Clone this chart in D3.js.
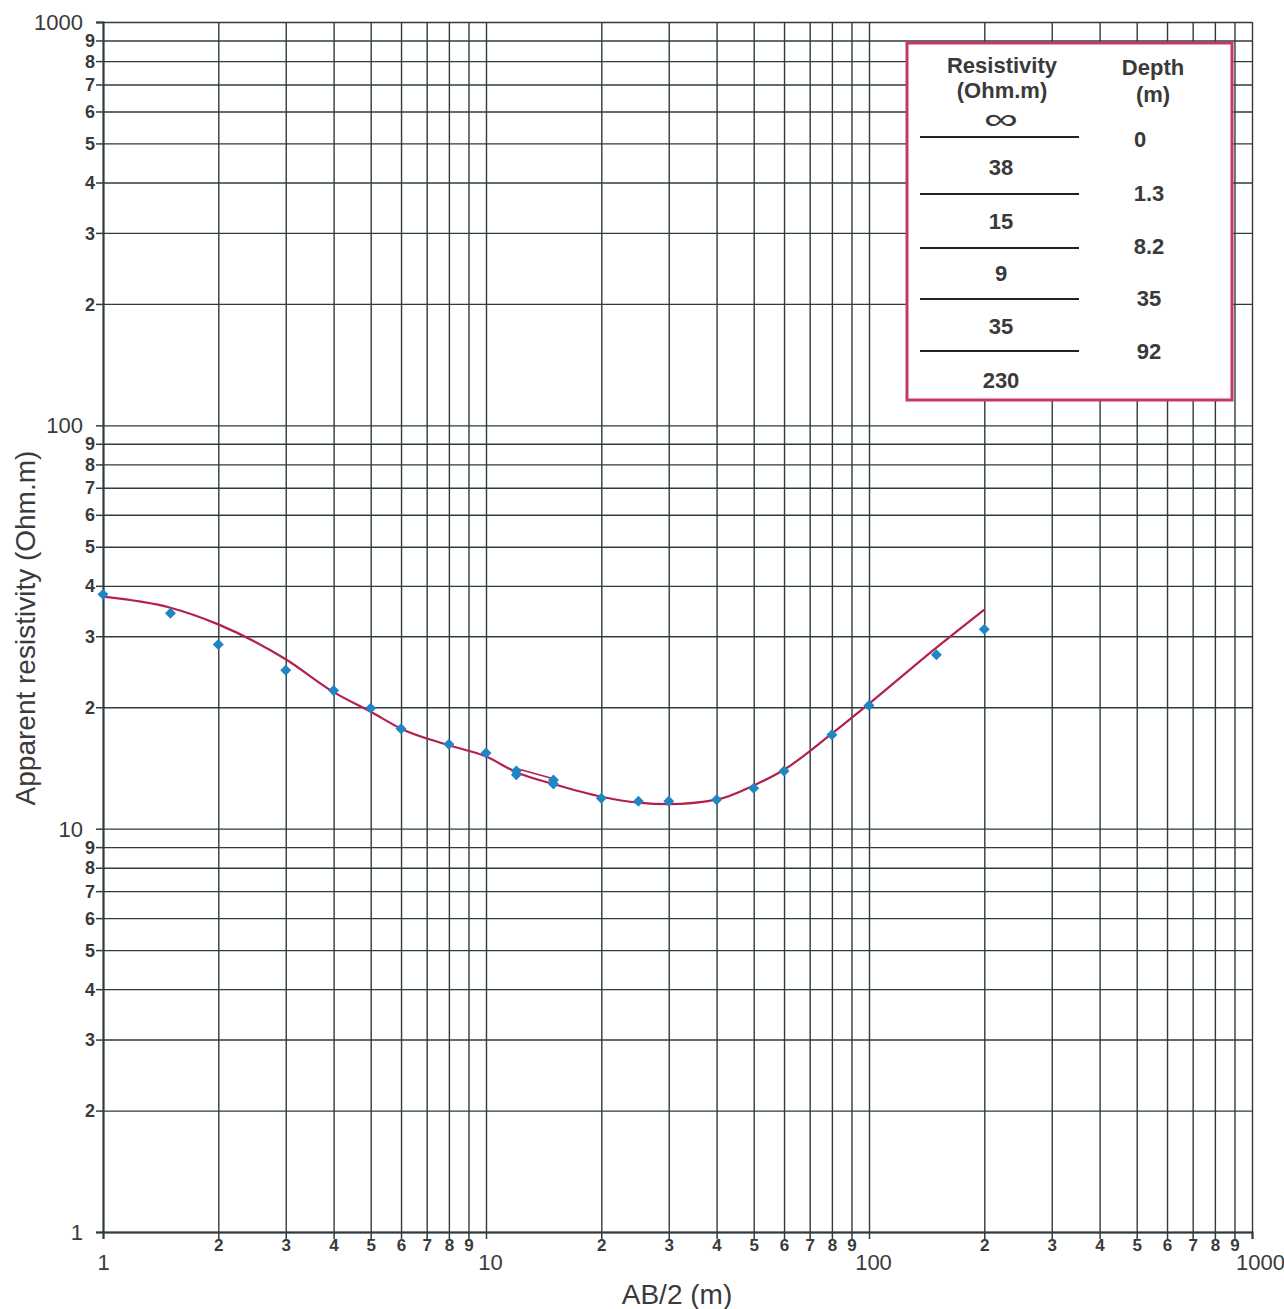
<!DOCTYPE html>
<html>
<head>
<meta charset="utf-8">
<script src="https://cdn.jsdelivr.net/npm/d3@7"></script>
<style>
  body { margin: 0; background: #fff; }
  svg { font-family: "Liberation Sans", Arial, sans-serif; }
</style>
</head>
<body>
<div id="hook-ves"></div>
<script>
'use strict';

// measured apparent resistivity (AB/2, rho_a)
var obsAB = [1, 1.5, 2, 3, 4, 5, 6, 8, 10, 12, 12, 15, 15, 20, 25, 30, 40, 50, 60, 80, 100, 150, 200];
var obsRho = [38.1, 34.2, 28.6, 24.7, 22.0, 19.9, 17.7, 16.2, 15.4, 13.9, 13.6, 13.2, 12.9, 11.9, 11.7, 11.7, 11.8, 12.6, 13.9, 17.1, 20.2, 27.0, 31.2];

// fitted model curve
var fitAB = [1, 1.5, 2, 3, 4, 5, 6, 8, 10, 12, 15, 20, 25, 30, 40, 50, 60, 80, 100, 150, 200];
var fitRho = [37.6, 35.3, 32.1, 26.3, 21.8, 19.5, 17.7, 16.1, 15.1, 13.8, 12.9, 12.0, 11.6, 11.5, 11.8, 12.8, 14.0, 17.2, 20.4, 28.1, 34.9];

// short overlapping segment of second spread
var segAB = [12, 15];
var segRho = [14.1, 13.3];

// layer table
var layerRes = ['\u221E', '38', '15', '9', '35', '230'];
var layerDepth = ['0', '1.3', '8.2', '35', '92'];

var decades = [1, 10, 100, 1000];
var minorDigits = [1, 2, 3, 4, 5, 6, 7, 8, 9];

var options = {
  width: 1284,
  height: 1309,
  left: 103,
  top: 22,
  right: 1252,
  bottom: 1232
};

var gridColor = '#2e3b40',
  textColor = '#3a3a3a',
  lineColor = '#b3204e',
  markColor = '#1f86c6';

function update(options) {
  var svg = d3.select('#hook-ves')
    .append('svg')
    .attr('width', options.width)
    .attr('height', options.height);

  var x = d3.scaleLog().domain([1, 1000]).range([options.left, options.right]);
  var y = d3.scaleLog().domain([1, 1000]).range([options.bottom, options.top]);

  var allTicks = [];
  decades.slice(0, 3).forEach(function(d) {
    minorDigits.forEach(function(m) { allTicks.push(d * m); });
  });
  allTicks.push(1000);

  var isMajor = function(v) { return decades.indexOf(v) >= 0; };
  var fmt = function(v) {
    return isMajor(v) ? String(v) : String(Math.round(v / Math.pow(10, Math.floor(Math.log10(v) + 1e-9))));
  };

  // grid
  svg.append('g')
    .attr('transform', 'translate(0,' + options.bottom + ')')
    .call(d3.axisBottom(x).tickValues(allTicks).tickSize(-(options.bottom - options.top)).tickFormat(''))
    .call(function(g) {
      g.select('.domain').remove();
      g.selectAll('line').attr('stroke', gridColor).attr('stroke-width', 1.4);
    });

  svg.append('g')
    .attr('transform', 'translate(' + options.left + ',0)')
    .call(d3.axisLeft(y).tickValues(allTicks).tickSize(-(options.right - options.left)).tickFormat(''))
    .call(function(g) {
      g.select('.domain').remove();
      g.selectAll('line').attr('stroke', gridColor).attr('stroke-width', 1.4);
    });

  // axes with labels
  var yAxis = svg.append('g')
    .attr('transform', 'translate(' + options.left + ',0)')
    .call(d3.axisLeft(y).tickValues(allTicks).tickSize(7).tickPadding(3).tickFormat(fmt));
  yAxis.select('.domain').attr('stroke', gridColor).attr('stroke-width', 2);
  yAxis.selectAll('line').attr('stroke', gridColor).attr('stroke-width', 1.5);
  yAxis.selectAll('text')
    .attr('fill', textColor)
    .attr('font-size', function(v) { return isMajor(v) ? 22 : 18; })
    .attr('font-weight', function(v) { return isMajor(v) ? 'normal' : 'bold'; })
    .attr('x', function(v) { return isMajor(v) ? -20 : -8; })
    .attr('dy', '0.34em');

  var xAxis = svg.append('g')
    .attr('transform', 'translate(0,' + options.bottom + ')')
    .call(d3.axisBottom(x).tickValues(allTicks).tickSize(7).tickPadding(3).tickFormat(fmt));
  xAxis.select('.domain').attr('stroke', gridColor).attr('stroke-width', 2);
  xAxis.selectAll('line').attr('stroke', gridColor).attr('stroke-width', 1.5);
  xAxis.selectAll('text')
    .attr('fill', textColor)
    .attr('font-size', function(v) { return isMajor(v) ? 22 : 17; })
    .attr('font-weight', function(v) { return isMajor(v) ? 'normal' : 'bold'; })
    .attr('y', function(v) { return isMajor(v) ? 22 : 7; })
    .attr('dx', function(v) { return (v === 10 || v === 100) ? 4 : (v === 1000 ? 8 : 0); });

  // axis titles
  svg.append('text')
    .attr('x', 677)
    .attr('y', 1304)
    .attr('text-anchor', 'middle')
    .attr('fill', textColor)
    .style('font-size', '28px')
    .text('AB/2 (m)');

  svg.append('text')
    .attr('transform', 'translate(35,628) rotate(-90)')
    .attr('text-anchor', 'middle')
    .attr('fill', textColor)
    .style('font-size', '28px')
    .text('Apparent resistivity (Ohm.m)');

  // fitted curve
  var line = d3.line()
    .x(function(d) { return x(d[0]); })
    .y(function(d) { return y(d[1]); })
    .curve(d3.curveMonotoneX);

  svg.append('path')
    .datum(d3.zip(fitAB, fitRho))
    .attr('d', line)
    .attr('fill', 'none')
    .attr('stroke', lineColor)
    .attr('stroke-width', 2.2);

  svg.append('path')
    .datum(d3.zip(segAB, segRho))
    .attr('d', line)
    .attr('fill', 'none')
    .attr('stroke', lineColor)
    .attr('stroke-width', 1.6);

  // observed points
  var marker = d3.symbol().type(d3.symbolSquare).size(60);
  svg.append('g')
    .selectAll('path')
    .data(d3.zip(obsAB, obsRho))
    .join('path')
    .attr('transform', function(d) { return 'translate(' + x(d[0]) + ',' + y(d[1]) + ') rotate(45)'; })
    .attr('d', marker)
    .attr('fill', markColor);

  // layer table
  var box = svg.append('g');
  box.append('rect')
    .attr('x', 907).attr('y', 43)
    .attr('width', 325).attr('height', 357)
    .attr('fill', '#fff')
    .attr('stroke', '#c43868')
    .attr('stroke-width', 3);

  var bold = function(sel, size) {
    return sel.attr('text-anchor', 'middle')
      .attr('fill', textColor)
      .style('font-size', size)
      .style('font-weight', 'bold');
  };

  bold(box.append('text').attr('x', 1002).attr('y', 73), '22px').text('Resistivity');
  bold(box.append('text').attr('x', 1002).attr('y', 98), '22px').text('(Ohm.m)');
  bold(box.append('text').attr('x', 1153).attr('y', 75), '22px').text('Depth');
  bold(box.append('text').attr('x', 1153).attr('y', 102), '22px').text('(m)');

  var sepY = [137, 194, 248, 299, 351];
  var resY = [129, 175, 229, 281, 334, 388];
  var depY = [147, 201, 254, 306, 359];

  box.selectAll('line.sep')
    .data(sepY)
    .join('line')
    .attr('x1', 920).attr('x2', 1079)
    .attr('y1', function(d) { return d; })
    .attr('y2', function(d) { return d; })
    .attr('stroke', '#222')
    .attr('stroke-width', 2);

  box.selectAll('text.res')
    .data(layerRes)
    .join('text')
    .attr('x', 1001)
    .attr('y', function(d, i) { return resY[i]; })
    .attr('text-anchor', 'middle')
    .attr('fill', textColor)
    .attr('textLength', function(d, i) { return i === 0 ? 34 : null; })
    .attr('lengthAdjust', 'spacingAndGlyphs')
    .style('font-size', function(d, i) { return i === 0 ? '30px' : '22px'; })
    .style('font-weight', function(d, i) { return i === 0 ? 'normal' : 'bold'; })
    .text(function(d) { return d; });

  box.selectAll('text.dep')
    .data(layerDepth)
    .join('text')
    .attr('x', function(d) { return d === '0' ? 1140 : 1149; })
    .attr('y', function(d, i) { return depY[i]; })
    .attr('text-anchor', 'middle')
    .attr('fill', textColor)
    .style('font-size', '22px')
    .style('font-weight', 'bold')
    .text(function(d) { return d; });
}

update(options);
</script>
</body>
</html>
